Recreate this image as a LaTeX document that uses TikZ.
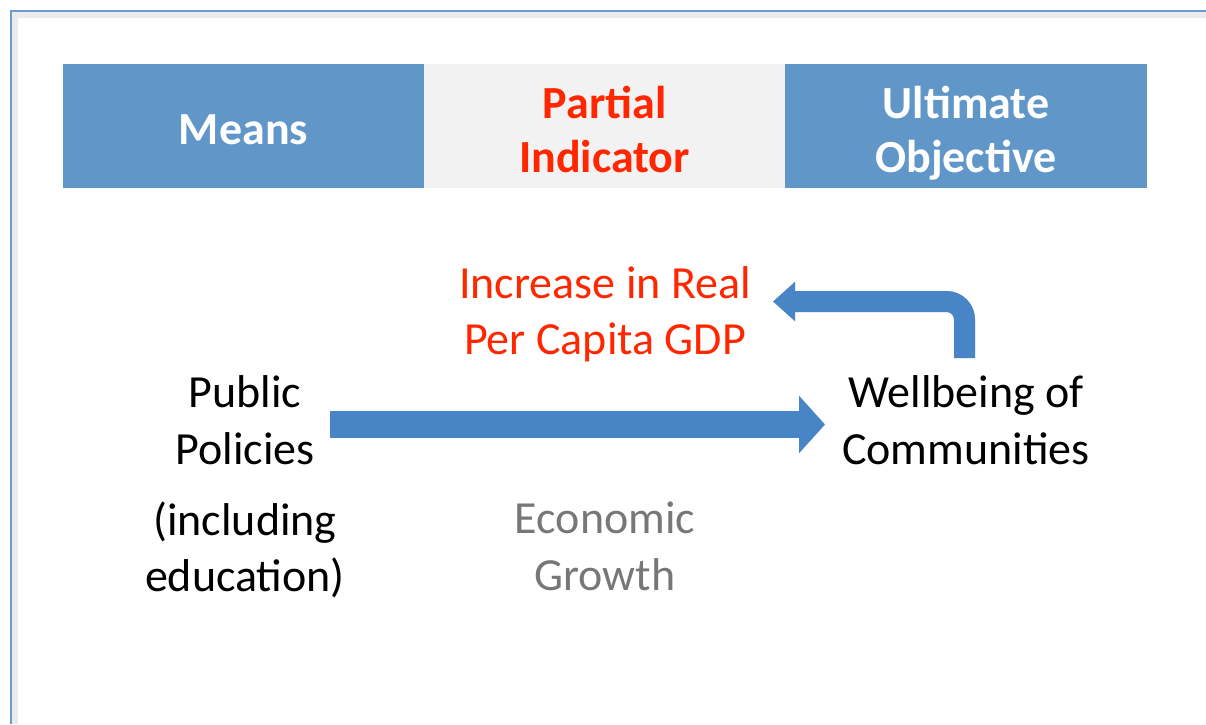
\documentclass[tikz,border=0pt]{standalone}
\usepackage{fontspec}
\setmainfont{Carlito}
\usepackage{xcolor}
\definecolor{headBlue}{HTML}{6096C8}
\definecolor{headGray}{HTML}{F2F2F2}
\definecolor{indRed}{HTML}{FF2600}
\definecolor{growthGray}{HTML}{777777}
\definecolor{arrowBlue}{HTML}{4785C6}
\definecolor{frameBlue}{HTML}{6A9BD2}
\usepackage{tikz}
\usetikzlibrary{arrows.meta}

\begin{document}
\begin{tikzpicture}[x=0.5pt, y=-0.5pt,
    bodytext/.style={font=\fontsize{23}{28.25}\selectfont, align=center, inner sep=0pt},
    headtext/.style={font=\fontsize{23}{27}\selectfont\bfseries, align=center, inner sep=0pt},
    arrowshadow/.style={black, opacity=0.18, xshift=1pt, yshift=-1.2pt}]

    \useasboundingbox (0,0) rectangle (1206,724);

    % --- Frame ---
    \draw[black!8, line width=3pt] (14.5,724) -- (14.5,14.5) -- (1206,14.5);
    \draw[frameBlue, line width=1.2pt] (11,724) -- (11,11) -- (1206,11);

    % --- Header row ---
    \fill[headBlue] (63,64) rectangle (424,188);
    \fill[headGray] (424,64) rectangle (785,188);
    \fill[headBlue] (785,64) rectangle (1147,188);
    \node[headtext, white] (means) at (243.5,130) {Means};
    \node[headtext, indRed] (partial) at (604.5,129) {Partial\\Indicator};
    \node[headtext, white] (ultimate) at (966,133.5) {Ultimate\\Objective};

    % --- Body texts ---
    \node[bodytext, indRed] (gdp) at (605,314) {Increase in Real\\Per Capita GDP};
    \node[bodytext] (policies) at (245,420) {Public\\Policies};
    \node[bodytext] (including) at (245,550) {(including\\education)};
    \node[bodytext] (wellbeing) at (966,420) {Wellbeing of\\Communities};
    \node[bodytext, growthGray] (growth) at (605,546.5) {Economic\\Growth};

    % --- Block arrows ---
    \coordinate (growthStart) at (330,424.5);
    \coordinate (growthEnd) at (825,424.5);
    \coordinate (loopStart) at (964.5,358);
    \coordinate (loopEnd) at (773,301.5);

    \draw[arrowshadow, line width=13.5pt, -{Triangle[length=13pt, width=28pt]}] (growthStart) -- (growthEnd);
    \draw[arrowshadow, line width=10.5pt, rounded corners=9pt, -{Triangle[length=11pt, width=19pt]}] (loopStart) |- (loopEnd);

    \draw[arrowBlue, line width=13.5pt, -{Triangle[length=13pt, width=28pt]}] (growthStart) -- (growthEnd);
    \draw[arrowBlue, line width=10.5pt, rounded corners=9pt, -{Triangle[length=11pt, width=19pt]}] (loopStart) |- (loopEnd);

\end{tikzpicture}
\end{document}
